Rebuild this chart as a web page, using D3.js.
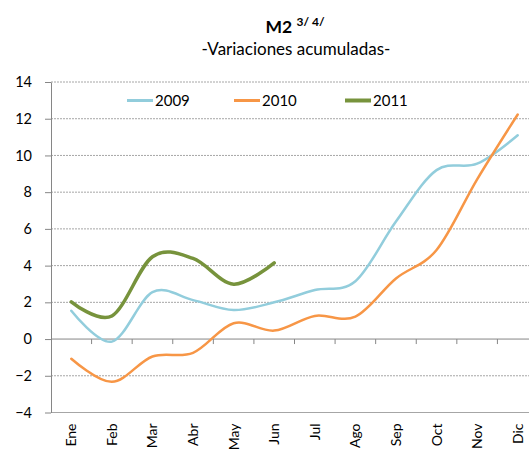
<!DOCTYPE html>
<html><head><meta charset="utf-8">
<script src="https://cdn.jsdelivr.net/npm/d3@7"></script>
<style>body{margin:0;background:#fff;}svg{display:block;font-family:Lato,"Open Sans",sans-serif;}</style>
</head><body><svg id="c" width="529" height="455"></svg>
<script>
const months = ["Ene","Feb","Mar","Abr","May","Jun","Jul","Ago","Sep","Oct","Nov","Dic"];
const s2009 = [1.54,-0.14,2.55,2.12,1.58,2.0,2.67,3.15,6.4,9.2,9.55,11.1];
const s2010 = [-1.07,-2.33,-0.95,-0.75,0.86,0.46,1.26,1.22,3.3,4.85,8.7,12.23];
const s2011 = [2.03,1.26,4.48,4.39,2.99,4.15];
const seriesNames = ["2009","2010","2011"];
const seriesColors = ["#92CDDC","#F79646","#77933C"];
const seriesWidths = [2.5,2.5,3.5];
const yTicks = [-4,-2,0,2,4,6,8,10,12,14];

const svg = d3.select("#c");
const L = 51, R = 538, T = 82, B = 412.5;
const x = d3.scaleBand().domain(months).range([L,R]).paddingInner(0).paddingOuter(0);
const y = d3.scaleLinear().domain([-4,14]).range([B,T]);
const cx = m => x(m) + x.bandwidth()/2;

// gridlines
svg.append("g").selectAll("line").data(yTicks.filter(v=>v!==0 && v!==-4)).join("line")
  .attr("x1",L).attr("x2",R).attr("y1",d=>y(d)).attr("y2",d=>y(d))
  .attr("stroke","#a6a6a6").attr("stroke-width",1).attr("stroke-dasharray","2,1");
svg.append("line").attr("x1",L).attr("x2",R).attr("y1",y(-4)).attr("y2",y(-4)).attr("stroke","#a6a6a6");

// y axis
const yAxis = d3.axisLeft(y).tickValues(yTicks).tickSize(6).tickSizeOuter(0).tickFormat(d3.format("d"));
const gy = svg.append("g").attr("transform",`translate(${L},0)`).call(yAxis);
gy.select(".domain").attr("stroke","#868686");
gy.selectAll(".tick line").attr("stroke","#868686");
gy.selectAll("text").attr("font-size",14.5).attr("fill","#000").attr("x",-19).attr("font-family","Lato,'Open Sans',sans-serif");

// x axis line at 0 with ticks at category boundaries
svg.append("line").attr("x1",L).attr("x2",R).attr("y1",y(0)).attr("y2",y(0)).attr("stroke","#868686");
svg.append("g").selectAll("line").data(months.slice(1)).join("line")
  .attr("x1",d=>x(d)).attr("x2",d=>x(d)).attr("y1",y(0)).attr("y2",y(0)+5).attr("stroke","#868686");

// x labels
svg.append("g").selectAll("text").data(months).join("text")
  .attr("transform",d=>`translate(${cx(d)+5},${B+11}) rotate(-90)`)
  .attr("text-anchor","end").attr("font-size",14).attr("fill","#000").text(d=>d);

// lines
const line = d3.line().x((d,i)=>cx(months[i])).y(d=>y(d)).curve(d3.curveCardinal.tension(0));
[s2009,s2010,s2011].forEach((s,k)=>{
  svg.append("path").datum(s).attr("d",line).attr("fill","none")
    .attr("stroke",seriesColors[k]).attr("stroke-width",seriesWidths[k]).attr("stroke-linecap","round");
});

// legend
const legX = [127,234,345];
seriesNames.forEach((n,k)=>{
  svg.append("line").attr("x1",legX[k]).attr("x2",legX[k]+26).attr("y1",100.5).attr("y2",100.5)
    .attr("stroke",seriesColors[k]).attr("stroke-width",seriesWidths[k]+0.5);
  svg.append("text").attr("x",legX[k]+28).attr("y",106).attr("font-size",15).attr("fill","#000").text(n);
});

// title
const t = svg.append("text").attr("x",295).attr("y",32.5).attr("text-anchor","middle").attr("font-weight","bold").attr("fill","#000");
t.append("tspan").attr("font-size",17.5).text("M2 ");
t.append("tspan").attr("font-size",12).attr("dy",-7).text("3/ 4/");
svg.append("text").attr("x",296).attr("y",55).attr("text-anchor","middle").attr("font-size",17).attr("fill","#000").text("-Variaciones acumuladas-");
</script></body></html>
